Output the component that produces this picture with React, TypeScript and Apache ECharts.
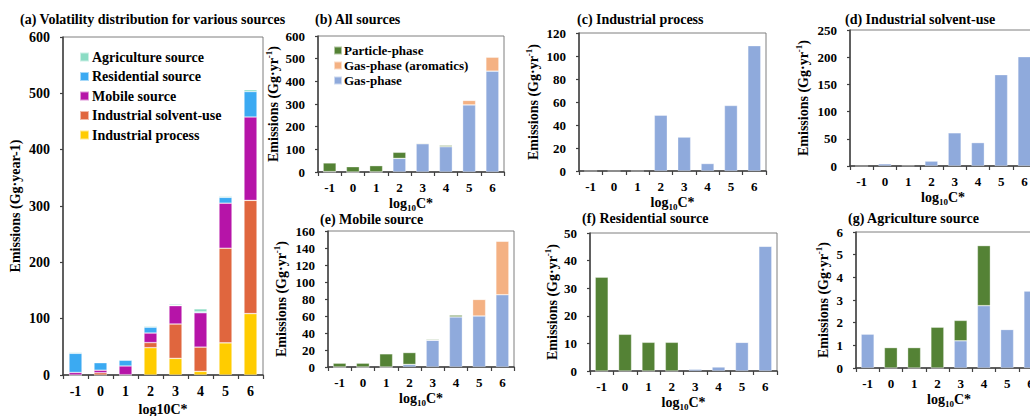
import React, { useEffect, useRef } from "react";
import * as echarts from "echarts";

const categories = ["-1", "0", "1", "2", "3", "4", "5", "6"];

// (a) Volatility distribution for various sources (Gg/yr)
const industrialProcess = [0, 0, 0, 48.5, 29.5, 6.5, 57, 109];
const industrialSolvent = [0, 4, 0.5, 9, 61, 43, 168, 201];
const mobileSource = [4.5, 4.5, 15.5, 17, 32.5, 61, 80, 148];
const residentialSource = [34, 13.3, 10.4, 10.4, 0.7, 1.5, 10.4, 45.2];
const agricultureSource = [1.5, 0.9, 0.9, 1.8, 2.1, 5.4, 1.7, 3.4];

// (b) All sources
const allGas = [1.5, 0, 0.5, 60, 125, 112, 296, 445];
const allAromatic = [0, 0, 0, 0, 0, 0, 20, 62];
const allParticle = [38.5, 23.5, 27.5, 27, 3, 5.5, 1, 1];

// (c) Industrial process
const ipGas = [0, 0, 0, 48.5, 29.5, 6.5, 57, 109];
// (d) Industrial solvent-use
const isuGas = [0, 4, 0.5, 9, 61, 43, 168, 201];
// (e) Mobile source
const mobGas = [0, 0, 0, 3, 31.5, 59, 60, 85];
const mobAromatic = [0, 0, 0, 0, 0, 0, 19.5, 63];
const mobParticle = [4.5, 4.5, 15.5, 14, 1, 2, 0.5, 0.5];
// (f) Residential source
const resGas = [0, 0, 0, 0, 0.7, 1.5, 10.4, 45.2];
const resParticle = [34, 13.3, 10.4, 10.4, 0, 0, 0, 0];
// (g) Agriculture source
const agrGas = [1.5, 0, 0, 0, 1.2, 2.75, 1.7, 3.4];
const agrParticle = [0, 0.9, 0.9, 1.8, 0.9, 2.65, 0, 0];

const FONT = '"Liberation Serif", "Times New Roman", serif';
const C_GAS = "#8FAADC";
const C_ARO = "#F4B183";
const C_PART = "#548235";

type Panel = {
  title: string; tl: number; tt: number;
  left: number; top: number; width: number; height: number;
  max: number; interval: number; yGap: number;
  big?: boolean;
};

const panels: Panel[] = [
  { title: "(a) Volatility distribution for various sources", tl: 20, tt: 12, left: 63, top: 37, width: 200, height: 338, max: 600, interval: 100, yGap: 41, big: true },
  { title: "(b) All sources", tl: 315, tt: 12, left: 318, top: 36, width: 186, height: 136, max: 600, interval: 100, yGap: 38 },
  { title: "(c) Industrial process", tl: 577, tt: 12, left: 579, top: 33, width: 187, height: 138, max: 120, interval: 20, yGap: 39 },
  { title: "(d) Industrial solvent-use", tl: 845, tt: 12, left: 850, top: 30, width: 186, height: 136, max: 250, interval: 50, yGap: 40 },
  { title: "(e) Mobile source", tl: 320, tt: 212, left: 328, top: 231, width: 186, height: 136, max: 160, interval: 20, yGap: 40 },
  { title: "(f) Residential source", tl: 582, tt: 211, left: 590, top: 233, width: 187, height: 138, max: 50, interval: 10, yGap: 31 },
  { title: "(g) Agriculture source", tl: 848, tt: 211, left: 856, top: 232, width: 186, height: 136, max: 6, interval: 1, yGap: 26 },
];

export default function App() {
  const ref = useRef<HTMLDivElement>(null);
  useEffect(() => {
    if (!ref.current) return;
    const chart = echarts.init(ref.current, null, { renderer: "svg" });
    const txt = { fontFamily: FONT, fontWeight: "bold" as const, color: "#000" };

    const bar = (name: string, data: number[], color: string, idx: number, stack: string) => ({
      type: "bar",
      name,
      data,
      xAxisIndex: idx,
      yAxisIndex: idx,
      stack,
      barWidth: 13,
      itemStyle: { color, borderColor: "rgba(255,255,255,0.55)", borderWidth: 0.6 },
    });

    const series: any[] = [
      bar("Industrial process", industrialProcess, "#FFCC00", 0, "a"),
      bar("Industrial solvent-use", industrialSolvent, "#E0663E", 0, "a"),
      bar("Mobile source", mobileSource, "#B614A8", 0, "a"),
      bar("Residential source", residentialSource, "#3BAAF2", 0, "a"),
      bar("Agriculture source", agricultureSource, "#8BDCC4", 0, "a"),
      bar("Gas-phase", allGas, C_GAS, 1, "b"),
      bar("Gas-phase (aromatics)", allAromatic, C_ARO, 1, "b"),
      bar("Particle-phase", allParticle, C_PART, 1, "b"),
      bar("Gas-phase", ipGas, C_GAS, 2, "c"),
      bar("Gas-phase", isuGas, C_GAS, 3, "d"),
      bar("Gas-phase", mobGas, C_GAS, 4, "e"),
      bar("Gas-phase (aromatics)", mobAromatic, C_ARO, 4, "e"),
      bar("Particle-phase", mobParticle, C_PART, 4, "e"),
      bar("Gas-phase", resGas, C_GAS, 5, "f"),
      bar("Particle-phase", resParticle, C_PART, 5, "f"),
      bar("Gas-phase", agrGas, C_GAS, 6, "g"),
      bar("Particle-phase", agrParticle, C_PART, 6, "g"),
    ];

    const option: any = {
      animation: false,
      backgroundColor: "#fff",
      title: panels.map((p) => ({
        text: p.title, left: p.tl, top: p.tt, padding: 0,
        textStyle: { ...txt, fontSize: 14 },
      })),
      legend: [
        {
          data: ["Agriculture source", "Residential source", "Mobile source", "Industrial solvent-use", "Industrial process"],
          orient: "vertical", left: 79, top: 50, itemWidth: 9, itemHeight: 9, itemGap: 5.5,
          padding: 0, selectedMode: false, icon: "rect",
          textStyle: { ...txt, fontSize: 14, padding: [0, 0, 0, -2] },
        },
        {
          data: ["Particle-phase", "Gas-phase (aromatics)", "Gas-phase"],
          orient: "vertical", left: 333, top: 44, itemWidth: 8, itemHeight: 8, itemGap: 2,
          padding: 0, selectedMode: false, icon: "rect",
          textStyle: { ...txt, fontSize: 13, padding: [0, 0, 0, -3] },
        },
      ],
      grid: panels.map((p) => ({
        left: p.left, top: p.top, width: p.width, height: p.height,
        outerBoundsMode: "none", containLabel: false,
        show: true, borderColor: "#7f7f7f", borderWidth: 1, backgroundColor: "transparent",
      })),
      xAxis: panels.map((p, i) => ({
        type: "category", gridIndex: i, data: categories,
        name: p.big ? "log10C*" : "{n|log}{s|10}{n|C*}",
        nameLocation: "middle", nameGap: p.big ? 26 : 24,
        nameTextStyle: {
          ...txt, fontSize: 14,
          rich: {
            n: { ...txt, fontSize: 14, lineHeight: 16, verticalAlign: "top" },
            s: { ...txt, fontSize: 9, lineHeight: 16, verticalAlign: "bottom", padding: [8, 0, 0, 0] },
          },
        },
        axisLine: { lineStyle: { color: "#404040", width: 1.5 } },
        axisTick: { show: true, length: 4, lineStyle: { color: "#404040", width: 1.2 } },
        axisLabel: { ...txt, fontSize: p.big ? 14 : 13, margin: 9, interval: 0 },
        splitLine: { show: false },
      })),
      yAxis: panels.map((p, i) => ({
        type: "value", gridIndex: i, min: 0, max: p.max, interval: p.interval,
        name: p.big ? "Emissions (Gg·year-1)" : "{n|Emissions (Gg·yr}{s|-1}{n|)}",
        nameLocation: "middle", nameGap: p.yGap, nameRotate: 90,
        nameTextStyle: {
          ...txt, fontSize: 14,
          rich: {
            n: { ...txt, fontSize: 14, lineHeight: 16, verticalAlign: "bottom" },
            s: { ...txt, fontSize: 9, lineHeight: 16, verticalAlign: "top", padding: [0, 0, 6, 0] },
          },
        },
        axisLine: { show: true, lineStyle: { color: "#404040", width: 1.5 } },
        axisTick: { show: true, length: 3, lineStyle: { color: "#404040", width: 1.2 } },
        axisLabel: { ...txt, fontSize: p.big ? 14 : 13, margin: 13 },
        splitLine: { show: false },
      })),
      series,
    };
    chart.setOption(option);
    return () => chart.dispose();
  }, []);

  return (
    <div
      ref={ref}
      style={{ position: "fixed", left: 0, top: 0, width: 1030, height: 416, background: "#fff" }}
    />
  );
}
